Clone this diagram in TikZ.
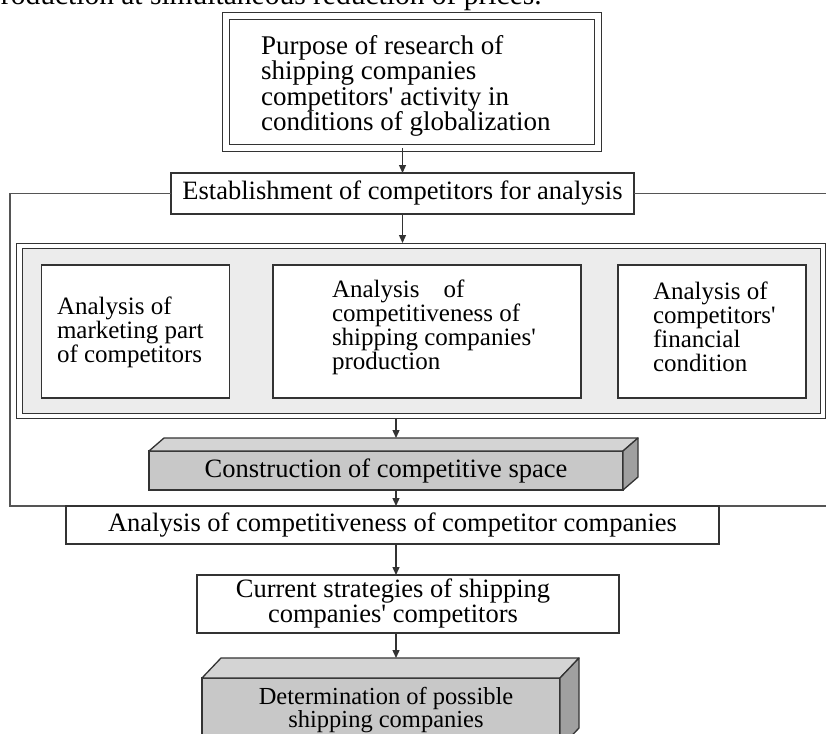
\documentclass[tikz,border=0pt]{standalone}
\usepackage{fontspec}
\setmainfont{Liberation Serif}
\usetikzlibrary{arrows.meta}
\definecolor{linec}{HTML}{333333}
\definecolor{framec}{HTML}{555555}
\definecolor{panelc}{HTML}{ECECEC}
\definecolor{frontc}{HTML}{C8C8C8}
\definecolor{topc}{HTML}{D4D4D4}
\definecolor{sidec}{HTML}{A0A0A0}
\newcommand{\apo}{\textquotesingle}
\begin{document}
\begin{tikzpicture}[x=1pt,y=-1pt,
  ln/.style={draw=linec, line width=1.3pt},
  box/.style={ln, fill=white, inner sep=0pt, outer sep=0pt, rectangle},
  boxthree/.style={ln, fill=frontc, inner sep=0pt, outer sep=0pt, rectangle},
  frameline/.style={draw=framec, line width=1.2pt},
  arr/.style={draw=linec, line width=1.3pt, -{Triangle[length=8pt,width=7pt]}},
  txt/.style={inner sep=0pt, outer sep=0pt, align=left, font=\fontsize{25}{24}\selectfont},
  big/.style={font=\fontsize{26.5}{25}\selectfont}]
\useasboundingbox (0,0) rectangle (826,733);
\fill[white] (0,0) rectangle (826,733);
\clip (0,0) rectangle (826,733);

% cut-off line of the page above
\node[anchor=base west, inner sep=0pt, font=\fontsize{29.5}{30}\selectfont] (hdr) at (-14,5) {production at simultaneous reduction of prices.};

% purpose (double frame)
\node[draw=linec, line width=1.1pt, double=white, double distance=5.5pt,
      minimum width=372pt, minimum height=132pt,
      inner sep=0pt, outer sep=0pt] (purpose) at (412,82) {};
\node[anchor=west, inner sep=0pt, align=left, font=\fontsize{27}{25.5}\selectfont] (purposet) at (261,86)
  {Purpose of research of\\shipping companies\\competitors\apo{} activity in\\conditions of globalization};

% establishment
\node[box, big, minimum width=463pt, minimum height=41pt] (estab) at (402.5,193.5)
  {Establishment of competitors for analysis};

% enclosing frame
\coordinate (ftl) at (10,193.5);
\coordinate (fbl) at (10,506);
\coordinate (fbr) at (826,506);
\coordinate (ftr) at (826,193.5);
\draw[frameline] (estab.west) -- (ftl) -- (fbl) -- (fbr);
\draw[frameline] (estab.east) -- (ftr);

% grey panel with double border
\node[draw=linec, line width=1pt, fill=white, minimum width=809pt, minimum height=175.5pt, inner sep=0pt, outer sep=0pt] (panel) at (420.5,330.75) {};
\node[draw=linec, line width=1pt, fill=panelc, minimum width=798pt, minimum height=165pt, inner sep=0pt, outer sep=0pt] (panelin) at (421,330.5) {};

\node[box, minimum width=188pt, minimum height=133pt] (b1) at (135.5,331.5) {};
\node[box, minimum width=308pt, minimum height=133pt] (b2) at (427,331.5) {};
\node[box, minimum width=188pt, minimum height=133pt] (b3) at (712,331.5) {};
\node[txt, anchor=west] (t1) at (57,332) {Analysis of\\marketing part\\of competitors};
\node[txt, anchor=west] (t2) at (332,327) {Analysis\hspace{24pt}of\\competitiveness of\\shipping companies\apo\\production};
\node[txt, anchor=west] (t3) at (653,327) {Analysis of\\competitors\apo\\financial\\condition};

% construction (3D box)
\node[boxthree, big, minimum width=474pt, minimum height=39pt] (cons) at (386,470.5) {Construction of competitive space};
\draw[ln, fill=topc, line join=round] (cons.north west) -- ++(15,-13) -- ++(474,0) -- (cons.north east) -- cycle;
\draw[ln, fill=sidec, line join=round] (cons.north east) -- ++(15,-13) -- ++(0,39) -- (cons.south east) -- cycle;
\coordinate (ctop) at ([yshift=13pt]cons.north);

% analysis of competitiveness
\node[box, big, minimum width=653pt, minimum height=38pt] (anal) at (392.5,525)
  {Analysis of competitiveness of competitor companies};

% current strategies
\node[box, minimum width=422pt, minimum height=58pt] (curr) at (408,604) {};
\node[inner sep=0pt, align=center, big] (currt) at (393,603) {Current strategies of shipping\\companies\apo{} competitors};

% determination (3D box)
\node[boxthree, minimum width=358pt, minimum height=70pt] (det) at (381,713) {};
\draw[ln, fill=topc, line join=round] (det.north west) -- ++(19,-20) -- ++(358,0) -- (det.north east) -- cycle;
\draw[ln, fill=sidec, line join=round] (det.north east) -- ++(19,-20) -- ++(0,70) -- (det.south east) -- cycle;
\coordinate (dtop) at ([yshift=20pt]det.north);
\node[inner sep=0pt, align=center, font=\fontsize{24.5}{23}\selectfont] (dett) at (386,710) {Determination of possible\\shipping companies};

% arrows
\coordinate (sp) at (396,0);
\draw[arr] (estab.north |- purpose.south) -- (estab.north);
\draw[arr] (estab.south) -- (estab.south |- panel.north);
\draw[arr] (sp |- panel.south) -- (sp |- ctop);
\draw[arr] (sp |- cons.south) -- (sp |- anal.north);
\draw[arr] (sp |- anal.south) -- (sp |- curr.north);
\draw[arr] (sp |- curr.south) -- (sp |- dtop);
\end{tikzpicture}
\end{document}
